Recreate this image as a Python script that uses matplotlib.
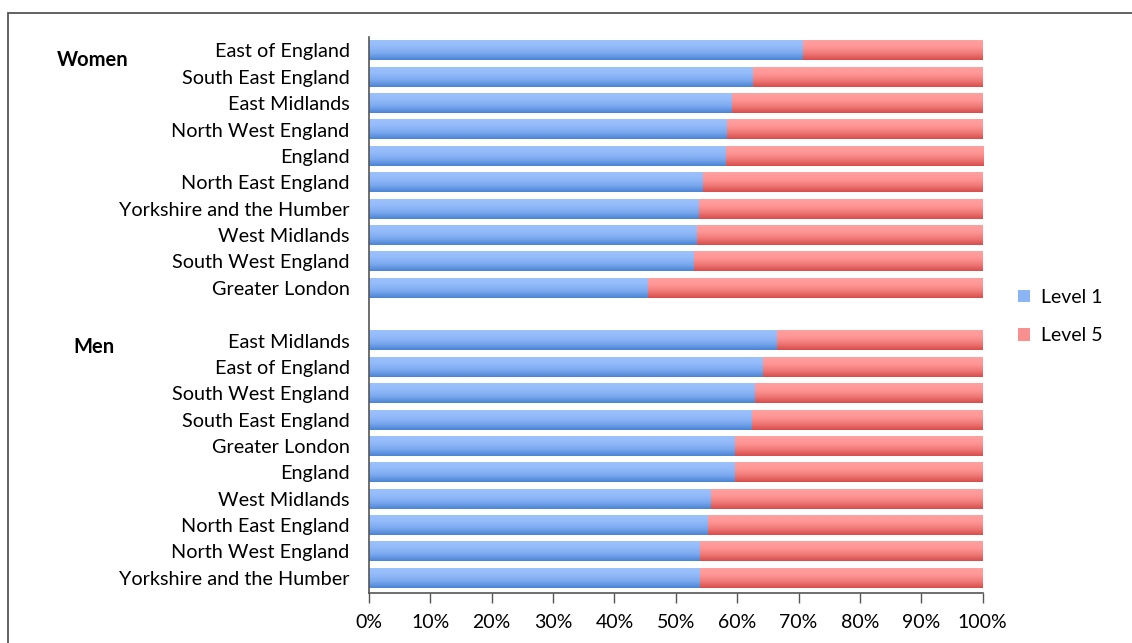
from matplotlib import pyplot as plt
from matplotlib.patches import Rectangle
from matplotlib.colors import LinearSegmentedColormap
import numpy as np

women_regions = ['East of England', 'South East England', 'East Midlands', 'North West England',
                 'England', 'North East England', 'Yorkshire and the Humber', 'West Midlands',
                 'South West England', 'Greater London']
women_level1 = [70.7, 62.6, 59.1, 58.4, 58.1, 54.5, 53.8, 53.5, 52.9, 45.5]

men_regions = ['East Midlands', 'East of England', 'South West England', 'South East England',
               'Greater London', 'England', 'West Midlands', 'North East England',
               'North West England', 'Yorkshire and the Humber']
men_level1 = [66.5, 64.2, 62.9, 62.5, 59.7, 59.7, 55.8, 55.3, 53.9, 53.9]

groups = ['Women', 'Men']
series = ['Level 1', 'Level 5']

plt.rcParams['font.family'] = ['Lato', 'DejaVu Sans']

labels = women_regions + [''] + men_regions
level1 = np.array(women_level1 + [np.nan] + men_level1)
level5 = 100 - level1
pos = np.arange(len(labels))

fig = plt.figure(figsize=(11.32, 6.43), dpi=100)
ax = fig.add_axes([0.326, 0.078, 0.542, 0.864])

blue_cmap = LinearSegmentedColormap.from_list('b', ['#4a84d3', '#7aa8ee', '#93bafa', '#9cc2fc'])
red_cmap = LinearSegmentedColormap.from_list('r', ['#d64d4b', '#f07a78', '#fe9796', '#ffa0a0'])

ok = ~np.isnan(level1)
b1 = ax.barh(pos[ok], level1[ok], height=0.75, color='#8cb4f5', label=series[0])
b5 = ax.barh(pos[ok], level5[ok], left=level1[ok], height=0.75, color='#f98f8f', label=series[1])

# vertical gradient on each bar, light at top
grad = np.linspace(0, 1, 64).reshape(-1, 1)
for bars, cm in [(b1, blue_cmap), (b5, red_cmap)]:
    for p in bars.patches:
        x0, y0 = p.get_x(), p.get_y()
        w, h = p.get_width(), p.get_height()
        ax.imshow(grad, extent=[x0, x0 + w, y0 + h, y0], origin='upper', aspect='auto',
                  cmap=cm.reversed(), zorder=2, interpolation='bicubic')

ax.set_xlim(0, 100)
ax.set_ylim(20.57, -0.5)
ax.set_xticks(np.arange(0, 101, 10))
ax.set_xticklabels([f'{v}%' for v in range(0, 101, 10)], fontsize=14)
ax.set_yticks(pos)
ax.set_yticklabels(labels, fontsize=14.3)
ax.tick_params(axis='y', length=0, pad=14)
ax.tick_params(axis='x', length=7, width=1, direction='out', color='#555555', pad=8)
for s in ['top', 'right']:
    ax.spines[s].set_visible(False)
for s in ['left', 'bottom']:
    ax.spines[s].set_color('#555555')
    ax.spines[s].set_linewidth(1.2)

fig.text(93 / 1132, 1 - 60 / 643, groups[0], fontsize=14.5, fontweight='bold', ha='center', va='center')
fig.text(94 / 1132, 1 - 347 / 643, groups[1], fontsize=14.5, fontweight='bold', ha='center', va='center')

leg = ax.legend(loc='center left', bbox_to_anchor=(1.03, 0.497), frameon=False, fontsize=14,
                handlelength=0.6, handleheight=0.6, handletextpad=0.55, labelspacing=1.1)

fig.patches.append(Rectangle((8 / 1132, -0.1), 1.2, 1.1 - 13 / 643, transform=fig.transFigure,
                             fill=False, edgecolor='#555555', linewidth=1.3))

fig.savefig('out.png', dpi=100)
